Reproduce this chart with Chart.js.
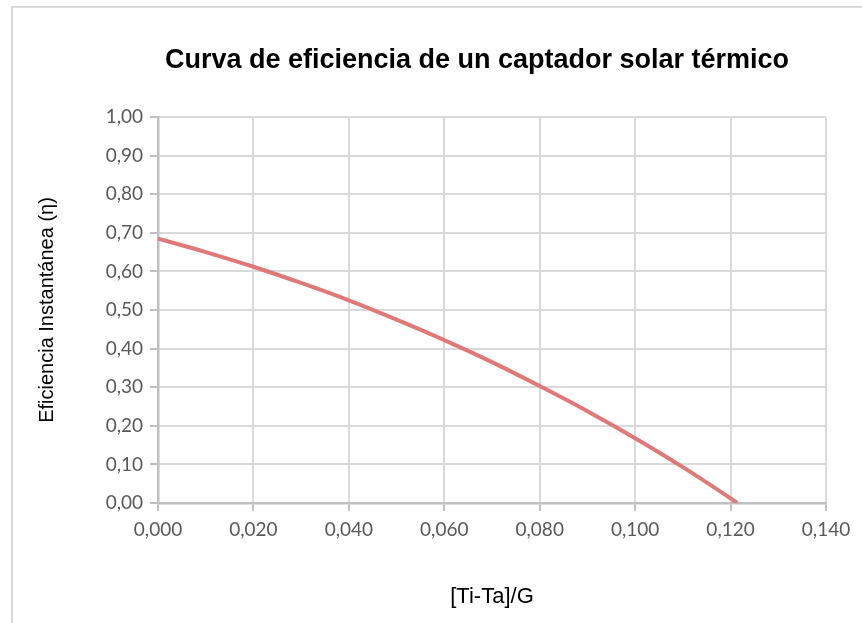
<!DOCTYPE html>
<html>
<head>
<meta charset="utf-8">
<script src="https://cdn.jsdelivr.net/npm/chart.js@4"></script>
<style>
  html, body { margin: 0; padding: 0; background: #fff; }
  #wrap { position: relative; width: 862px; height: 623px; }
  #marco { position: absolute; left: 11px; top: 6px; right: 0; bottom: 0;
           border-top: 2px solid #d9d9d9; border-left: 2px solid #d9d9d9; }
  #Graphique { position: absolute; left: 0; top: 0; }
</style>
</head>
<body>
<div id="wrap">
  <div id="marco"></div>
  <canvas id="Graphique" width="862" height="623"></canvas>
</div>
<script>
// datos
var xVals = [0.000, 0.010, 0.020, 0.030, 0.040, 0.050, 0.060, 0.070, 0.080, 0.090, 0.100, 0.110, 0.120, 0.1214];
var etaVals = [0.685, 0.650, 0.612, 0.570, 0.525, 0.475, 0.422, 0.365, 0.303, 0.238, 0.168, 0.093, 0.012, 0.000];

var titulo = 'Curva de eficiencia de un captador solar térmico';
var tituloX = '[Ti-Ta]/G';
var tituloY = 'Eficiencia Instantánea (η)';

var puntos = xVals.map(function (x, i) { return { x: x, y: etaVals[i] }; });

// titulo dibujado a mano para centrarlo como en Excel
var tituloPlugin = {
    id: 'tituloExcel',
    afterDraw: function (chart) {
        var ctx = chart.ctx;
        ctx.save();
        ctx.font = 'bold 27px "Liberation Sans", Arial, sans-serif';
        ctx.fillStyle = '#000';
        ctx.textAlign = 'center';
        ctx.textBaseline = 'alphabetic';
        ctx.fillText(titulo, 477, 68);
        ctx.restore();
    }
};

var chartElem = document.getElementById('Graphique').getContext('2d');

var chartObj = new Chart(chartElem, {
    type: 'scatter',
    data: {
        datasets: [{
            label: 'Eficiencia',
            data: puntos,
            showLine: true,
            borderColor: '#e07878',
            borderWidth: 4,
            pointRadius: 0,
            cubicInterpolationMode: 'monotone',
            fill: false
        }]
    },
    options: {
        responsive: false,
        animation: false,
        layout: { padding: { top: 117, right: 36, bottom: 0, left: 0 } },
        plugins: {
            legend: { display: false },
            tooltip: { enabled: false },
            title: { display: false }
        },
        scales: {
            x: {
                type: 'linear',
                min: 0,
                max: 0.14,
                ticks: {
                    stepSize: 0.02,
                    color: '#595959',
                    padding: 7,
                    font: { family: 'Lato', size: 19 },
                    callback: function (v) { return v.toFixed(3).replace('.', ','); }
                },
                grid: { color: '#d9d9d9', lineWidth: 2, tickColor: '#bfbfbf', tickLength: 8 },
                border: { color: '#bfbfbf', width: 2.5 },
                title: {
                    display: true,
                    text: tituloX,
                    color: '#000',
                    font: { family: '"Liberation Sans"', size: 22 },
                    padding: { top: 0, bottom: 13 }
                },
                afterFit: function (s) { s.height = 120; }
            },
            y: {
                min: 0,
                max: 1,
                ticks: {
                    stepSize: 0.1,
                    color: '#595959',
                    padding: 7,
                    font: { family: 'Lato', size: 19 },
                    callback: function (v) { return v.toFixed(2).replace('.', ','); }
                },
                grid: { color: '#d9d9d9', lineWidth: 2, tickColor: '#bfbfbf', tickLength: 8 },
                border: { color: '#bfbfbf', width: 2.5 },
                title: {
                    display: true,
                    text: tituloY,
                    color: '#000',
                    font: { family: '"Liberation Sans"', size: 20 },
                    padding: { top: 35, bottom: 0 }
                },
                afterFit: function (s) { s.width = 158; }
            }
        }
    },
    plugins: [tituloPlugin]
});
</script>
</body>
</html>
